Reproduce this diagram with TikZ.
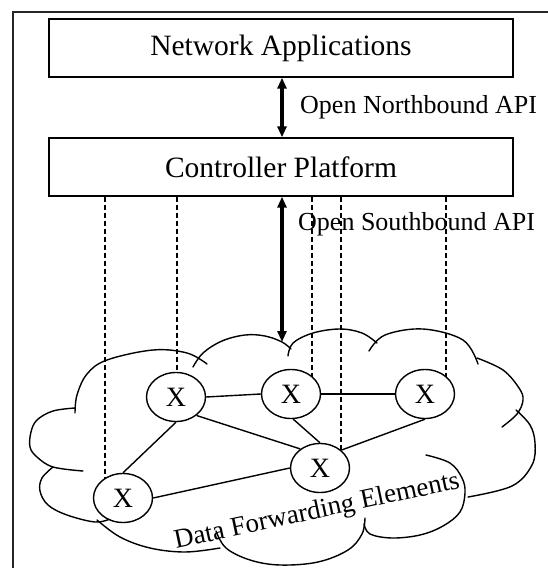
\documentclass[tikz,border=0pt]{standalone}
\usepackage{fontspec}
\setmainfont{Liberation Serif}
\usetikzlibrary{arrows.meta,shapes.geometric,backgrounds}

\begin{document}
\begin{tikzpicture}[x=1bp,y=-1bp,
  layerbox/.style={draw, line width=1.4bp, minimum width=464bp, minimum height=58bp,
    inner sep=0pt, font=\fontsize{29.5bp}{32bp}\selectfont},
  fwd/.style={ellipse, draw, fill=white, line width=1.4bp, minimum width=59bp,
    minimum height=49bp, inner sep=0pt, font=\fontsize{28bp}{30bp}\selectfont},
  link/.style={line width=1.4bp},
  probe/.style={line width=1.1bp, dash pattern=on 5bp off 3bp},
  apiarrow/.style={line width=3.4bp,
    {Triangle[length=11bp,width=9bp]}-{Triangle[length=11bp,width=9bp]}},
  apilabel/.style={anchor=west, inner sep=0pt, font=\fontsize{26bp}{28bp}\selectfont},
  cloudline/.style={line width=1.4bp, line cap=round}
]
\useasboundingbox (0,0) rectangle (548,568);
\clip (0,0) rectangle (548,568);

% outer frame
\draw[line width=2.6bp, black!85] (13,12) rectangle (600,620);

% control layers
\node[layerbox] (na) at (281,48) {Network Applications};
\node[layerbox] (cp) at (281,167) {Controller Platform};

% forwarding elements
\node[fwd] (x1) at (176,397) {X};
\node[fwd] (x2) at (291,394) {X};
\node[fwd] (x3) at (425,394) {X};
\node[fwd] (x4) at (320,468) {X};
\node[fwd] (x5) at (123,498) {X};

% APIs
\coordinate (ax) at (282,0);
\coordinate (cloudtop) at (282,342);
\draw[apiarrow] (na.south -| ax) -- (cp.north -| ax);
\draw[apiarrow] (cp.south -| ax) -- (cloudtop);
\node[apilabel] (nbi) at (300,107) {Open Northbound API};
\node[apilabel] (sbi) at (298,224) {Open Southbound API};

\begin{scope}[on background layer]
  % control channels from the controller down to the switches
  \coordinate (d1) at (105,0);
  \coordinate (d2) at (177,0);
  \coordinate (d3) at (312,0);
  \coordinate (d4) at (341,0);
  \coordinate (d5) at (446,0);
  \draw[probe] (cp.south -| d1) -- (d1 |- x5.center);
  \draw[probe] (cp.south -| d2) -- (d2 |- x1.center);
  \draw[probe] (cp.south -| d3) -- (d3 |- x2.center);
  \draw[probe] (cp.south -| d4) -- (d4 |- x4.center);
  \draw[probe] (cp.south -| d5) -- (d5 |- x3.center);

  % cloud of the data plane, built from overlapping lobes
  \begin{scope}[cloudline]
    \draw plot[smooth, tension=0.6] coordinates {(75,413) (77,395) (87,374) (107,360) (153,350) (187,353) (207,364)};
    \draw plot[smooth, tension=0.6] coordinates {(193,367) (203,353) (222,341) (245,335) (265,336) (282,342) (291,349)};
    \draw plot[smooth, tension=0.6] coordinates {(288,356) (293,343) (313,333) (340,329) (362,333) (377,343)};
    \draw plot[smooth, tension=0.6] coordinates {(369,351) (385,335) (423,329) (463,340) (478,364)};
    \draw plot[smooth, tension=0.6] coordinates {(477,358) (503,370) (519,388) (523,400) (517,414) (502,427)};
    \draw plot[smooth, tension=0.6] coordinates {(516,410) (530,425) (535,443) (532,465) (512,486) (468,497)};
    \draw plot[smooth, tension=0.6] coordinates {(426,455) (450,463) (462,478) (465,493) (460,512) (443,526) (420,535) (392,538) (370,534) (364,524)};
    \draw plot[smooth, tension=0.6] coordinates {(216,531) (226,548) (250,560) (280,565) (318,562) (348,550) (362,534) (365,518)};
    \draw plot[smooth, tension=0.6] coordinates {(97,520) (120,537) (150,548) (185,552) (220,548)};
    \draw plot[smooth, tension=0.6] coordinates {(53,467) (42,478) (40,491) (48,505) (67,515) (95,522) (110,519)};
    \draw plot[smooth, tension=0.6] coordinates {(75,408) (53,411) (37,420) (31,432) (30,447) (37,457) (53,467) (83,471)};
  \end{scope}
\end{scope}

% links between forwarding elements
\draw[link] (x1.east) -- (x2.west);
\draw[link] (x2.east) -- (x3.west);
\draw[link] (x1.-42) -- (x4.136);
\draw[link] (x2.-85) -- (x4.north);
\draw[link] (x3.south) -- (x4.40);
\draw[link] (x1.south) -- (x5.north);
\draw[link] (x5.east) -- (x4.west);

\node[font=\fontsize{27bp}{29bp}\selectfont, inner sep=0pt] (dfe) at (317,512) [rotate=12] {Data Forwarding Elements};
\end{tikzpicture}
\end{document}
